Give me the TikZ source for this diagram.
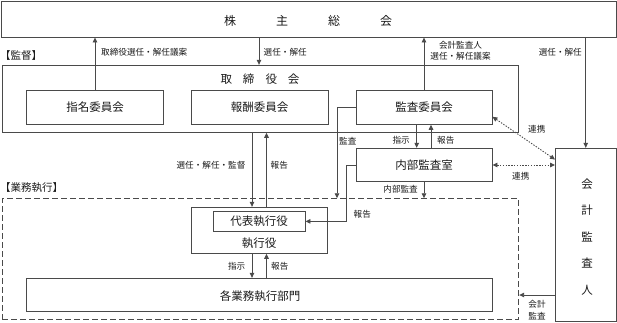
\documentclass[tikz,border=0pt]{standalone}
\usepackage{fontspec}
\setmainfont{Noto Sans CJK JP}
\usetikzlibrary{arrows.meta}
\definecolor{linec}{HTML}{4A4A4A}
\definecolor{txtc}{HTML}{1A1A1A}
\begin{document}
\begin{tikzpicture}[x=1pt,y=-1pt,
  box/.style={draw=linec, line width=0.9pt, rectangle, inner sep=0pt},
  dbox/.style={draw=linec, line width=0.9pt, rectangle, inner sep=0pt, dash pattern=on 6pt off 3pt},
  big/.style={font=\fontsize{12}{14}\selectfont, text=txtc, inner sep=0pt},
  mid/.style={font=\fontsize{11.5}{13}\selectfont, text=txtc, inner sep=0pt},
  lab/.style={font=\fontsize{8.6}{11.5}\selectfont, text=txtc, inner sep=0pt, align=center},
  head/.style={font=\fontsize{10.5}{12}\selectfont, text=txtc, inner sep=0pt},
  conn/.style={draw=linec, line width=0.9pt},
  arr/.style={conn, -{Triangle[length=5pt,width=4.5pt]}},
  dotarr/.style={draw=linec, line width=0.9pt, dash pattern=on 1.4pt off 1.4pt,
     {Triangle[length=5pt,width=4.5pt]}-{Triangle[length=5pt,width=4.5pt]}}
]
\useasboundingbox (0,0) rectangle (617,322);

% boxes
\node[box, minimum width=615pt, minimum height=36pt] (sh) at (308.5,19) {};
\node[big] (sht) at (308,21) {株\hspace{40pt}主\hspace{40pt}総\hspace{40pt}会};
\node[box, minimum width=516.7pt, minimum height=67pt] (tb) at (260.35,98.8) {};
\node[mid] (tbt) at (260,79) {取\hspace{11pt}締\hspace{11pt}役\hspace{11pt}会};
\node[box, minimum width=136.6pt, minimum height=34.3pt] (shimei) at (95,107.15) {};
\node[mid] at (shimei) {指名委員会};
\node[box, minimum width=137pt, minimum height=34.3pt] (hoshu) at (259.5,107.15) {};
\node[mid] at (hoshu) {報酬委員会};
\node[box, minimum width=136pt, minimum height=34.3pt] (kansa) at (424,107.15) {};
\node[mid] at (kansa) {監査委員会};
\node[box, minimum width=136pt, minimum height=33.4pt] (naibu) at (424,165) {};
\node[mid] at (naibu) {内部監査室};
\node[box, minimum width=60.5pt, minimum height=172.7pt] (kaikei) at (585.75,234.65) {};
\node[mid, align=center, font=\fontsize{11.5}{26.5}\selectfont] (kaikeit) at (587,237) {会\\計\\監\\査\\人};
\node[dbox, minimum width=516.7pt, minimum height=120.3pt] (dbox) at (260.35,258.85) {};
\node[box, minimum width=136pt, minimum height=46pt] (shikko) at (259,230.3) {};
\node[mid] (shikkot) at (259,243) {執行役};
\node[box, minimum width=91.7pt, minimum height=19.3pt] (daihyo) at (259.15,221.35) {};
\node[mid] at (daihyo) {代表執行役};
\node[box, minimum width=465.3pt, minimum height=33.4pt] (kakugyomu) at (259.35,295) {};
\node[mid] at (260,296) {各業務執行部門};

% headings
\node[head, anchor=west] (kantoku) at (0,55.7) {【監督】};
\node[head, anchor=west] (gyomu) at (0,188) {【業務執行】};

% helper coordinates
\coordinate (x259) at (259,0);
\coordinate (x337) at (337,0);

% connectors
\draw[arr] (shimei.north) -- (shimei.north |- sh.south);
\draw[arr] (x259 |- sh.south) -- (x259 |- tb.north);
\draw[arr] (kansa.north) -- (kansa.north |- sh.south);
\draw[arr] (kaikei.north |- sh.south) -- (kaikei.north);
\draw[arr] ([xshift=-7pt]shikko.north |- tb.south) -- ([xshift=-7pt]shikko.north);
\draw[arr] ([xshift=7.5pt]shikko.north) -- ([xshift=7.5pt]shikko.north |- tb.south);
\draw[arr] (kansa.west) -| (x337 |- dbox.north);
\draw[arr] ([xshift=-7.3pt]kansa.south) -- ([xshift=-7.3pt]naibu.north);
\draw[arr] ([xshift=7pt]naibu.north) -- ([xshift=7pt]kansa.south);
\draw[arr] (naibu.south) -- (naibu.south |- dbox.north);
\draw[arr] (naibu.west) -- ++(-9,0) |- (daihyo.east);
\draw[dotarr] ([yshift=8pt]kansa.south east) -- ([yshift=-11.7pt]kaikei.north west);
\draw[dotarr] (naibu.east) -- (naibu.east -| kaikei.west);
\draw[arr] ([xshift=-7pt]shikko.south) -- ([xshift=-7pt]shikko.south |- kakugyomu.north);
\draw[arr] ([xshift=7.5pt]kakugyomu.north -| shikko.south) -- ([xshift=7.5pt]shikko.south);
\draw[arr] (kakugyomu.east -| kaikei.west) -- (kakugyomu.east -| dbox.east);

% labels
\node[lab, anchor=west] (l1) at (101,52) {取締役選任・解任議案};
\node[lab, anchor=west] (l2) at (263.5,52) {選任・解任};
\node[lab] (l3) at (460.5,51) {会計監査人\\選任・解任議案};
\node[lab, anchor=east] (l4) at (582,52) {選任・解任};
\node[lab] (l5) at (211,165) {選任・解任・監督};
\node[lab, anchor=west] (l6) at (270.5,165) {報告};
\node[lab, anchor=west] (l7) at (339,140.7) {監査};
\node[lab, anchor=east] (l8) at (410,140.7) {指示};
\node[lab, anchor=west] (l9) at (437,140.7) {報告};
\node[lab, anchor=east] (l10) at (418,189.3) {内部監査};
\node[lab, anchor=west] (l11) at (353.5,214) {報告};
\node[lab, anchor=west] (l12) at (528,129.3) {連携};
\node[lab, anchor=west] (l13) at (512,176) {連携};
\node[lab, anchor=east] (l14) at (245.5,266) {指示};
\node[lab, anchor=west] (l15) at (271,266) {報告};
\node[lab] (l16) at (537,310) {会計\\監査};
\end{tikzpicture}
\end{document}
